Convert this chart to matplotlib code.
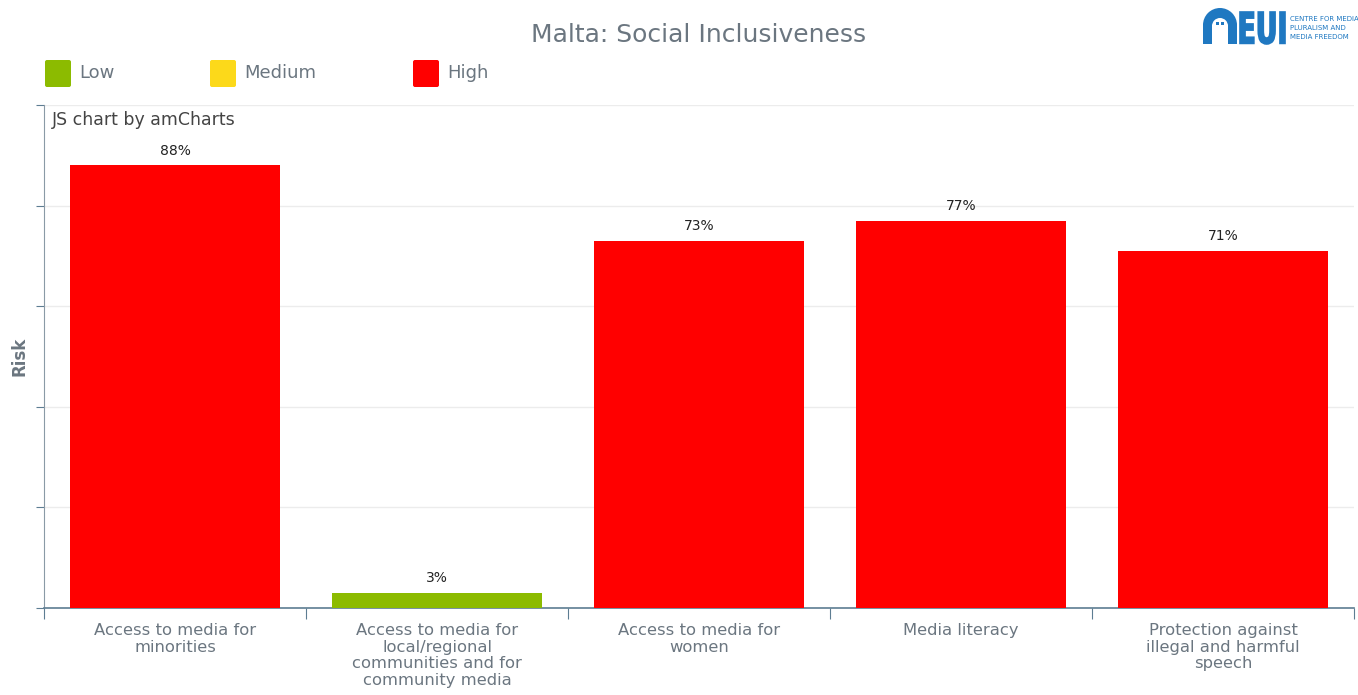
import matplotlib.pyplot as plt
import matplotlib.patches as mpatches
from matplotlib.textpath import TextPath
from matplotlib.font_manager import FontProperties
from matplotlib.transforms import Affine2D

# === Data ===
categories = [
    "Access to media for\nminorities",
    "Access to media for\nlocal/regional\ncommunities and for\ncommunity media",
    "Access to media for\nwomen",
    "Media literacy",
    "Protection against\nillegal and harmful\nspeech",
]
risk_values = [88, 3, 73, 77, 71]
risk_levels = ["High", "Low", "High", "High", "High"]

level_names = ["Low", "Medium", "High"]
level_colors = {"Low": "#8cbb00", "Medium": "#fcd91a", "High": "#ff0000"}

TEXT_GREY = "#6b7680"
AXIS_COL = "#5d7d92"

# === Figure ===
fig = plt.figure(figsize=(13.58, 6.95), dpi=100)
W, H = 1358, 695
ax = fig.add_axes([44 / W, 1 - 608 / H, (1354 - 44) / W, (608 - 105) / H])

xs = list(range(len(categories)))
bar_colors = [level_colors[lv] for lv in risk_levels]
ax.bar(xs, risk_values, width=0.8, color=bar_colors, zorder=3)
for x, v in zip(xs, risk_values):
    ax.text(x, v + 1.5, f"{v}%", ha="center", va="bottom",
            fontsize=10, color="#222222")

ax.set_xlim(-0.5, len(categories) - 0.5)
ax.set_ylim(0, 100)
ax.set_yticks([0, 20, 40, 60, 80, 100])
ax.set_yticklabels([])
ax.yaxis.grid(True, color="#ececec", linewidth=1, zorder=0)
ax.tick_params(axis="y", length=6, color=AXIS_COL, direction="out")

# category boundaries carry the x ticks, labels sit under bar centres
ax.set_xticks([i - 0.5 for i in range(len(categories) + 1)])
ax.set_xticklabels([])
ax.set_xticks(xs, minor=True)
ax.set_xticklabels(categories, minor=True, fontsize=11.8, color=TEXT_GREY,
                   linespacing=1.12, va="top")
ax.tick_params(axis="x", which="major", length=8, color=AXIS_COL, direction="out")
ax.tick_params(axis="x", which="minor", length=0, pad=11)

for side in ["top", "right"]:
    ax.spines[side].set_visible(False)
ax.spines["left"].set_color("#8a9aa6")
ax.spines["bottom"].set_color(AXIS_COL)
ax.spines["bottom"].set_linewidth(1.2)

ax.set_ylabel("Risk", fontsize=12, fontweight="bold", color=TEXT_GREY, labelpad=2)
ax.text(0.006, 0.97, "JS chart by amCharts", transform=ax.transAxes,
        fontsize=12.5, color="#444444", ha="left", va="center")

# === Overlay in pixel coordinates: title, legend, logo ===
ov = fig.add_axes([0, 0, 1, 1], zorder=5)
ov.set_xlim(0, W)
ov.set_ylim(H, 0)
ov.axis("off")

ov.text(699, 35, "Malta: Social Inclusiveness", ha="center", va="center",
        fontsize=18, color=TEXT_GREY)

legend_x = [45, 210, 413]
for lx, name in zip(legend_x, level_names):
    ov.add_patch(mpatches.FancyBboxPatch((lx, 60), 26, 27,
                                         boxstyle="round,pad=0,rounding_size=2",
                                         facecolor=level_colors[name], edgecolor="none"))
    ov.text(lx + 34, 73.5, name, ha="left", va="center", fontsize=13, color=TEXT_GREY)

# EUI logo: arch + condensed lettering + caption
blue = "#1f78c1"
ov.add_patch(mpatches.Rectangle((1203, 24), 34, 20, facecolor=blue, edgecolor="none"))
ov.add_patch(mpatches.Wedge((1220, 25), 17, 180, 360, facecolor=blue, edgecolor="none"))
ov.add_patch(mpatches.Rectangle((1212, 25), 16, 19.5, facecolor="white", edgecolor="none"))
ov.add_patch(mpatches.Wedge((1220, 26), 8, 180, 360, facecolor="white", edgecolor="none"))
ov.add_patch(mpatches.Rectangle((1216, 22), 3, 3, facecolor=blue, edgecolor="none"))
ov.add_patch(mpatches.Rectangle((1221, 22), 3, 3, facecolor=blue, edgecolor="none"))

tp = TextPath((0, 0), "EUI", size=1, prop=FontProperties(family="DejaVu Sans", weight="bold"))
ext = tp.get_extents()
sx = 45 / ext.width
sy = 32 / ext.height
logo_tf = Affine2D().translate(-ext.x0, -ext.y0).scale(sx, -sy).translate(1240, 44)
ov.add_patch(mpatches.PathPatch(logo_tf.transform_path(tp), facecolor=blue,
                                edgecolor=blue, linewidth=1.2))

for i, line in enumerate(["CENTRE FOR MEDIA", "PLURALISM AND", "MEDIA FREEDOM"]):
    ov.text(1290, 19 + i * 9, line, ha="left", va="center", fontsize=5, color=blue)

fig.savefig("out.png", dpi=100)
